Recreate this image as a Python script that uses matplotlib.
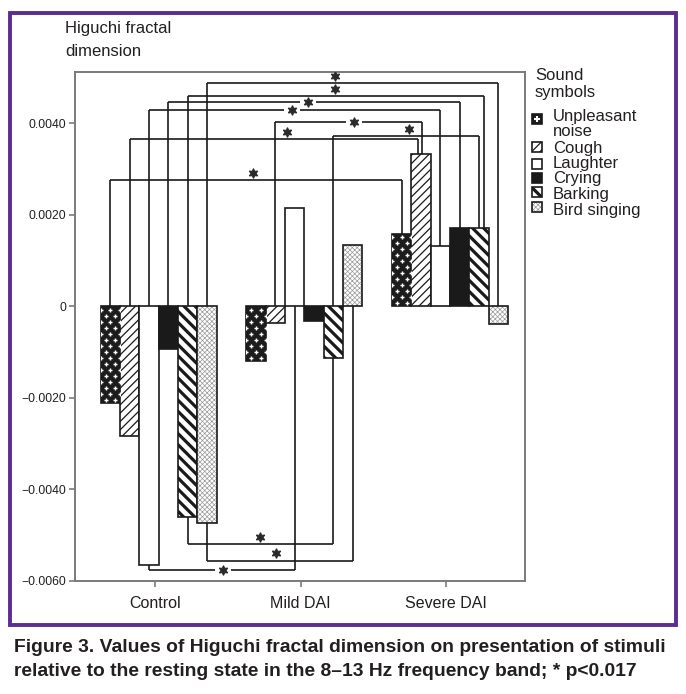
import numpy as np
import matplotlib
matplotlib.use("Agg")
import matplotlib.pyplot as plt
from matplotlib.patches import Rectangle

plt.rcParams['font.family'] = ['Liberation Sans', 'DejaVu Sans']

groups = ["Control", "Mild DAI", "Severe DAI"]
sounds = ["Unpleasant\nnoise", "Cough", "Laughter", "Crying", "Barking", "Bird singing"]

# change of Higuchi FD relative to rest, one list per group (sound order as above)
control = [-0.00212, -0.00283, -0.00565, -0.00094, -0.00461, -0.00474]
mild = [-0.00120, -0.00037, 0.00214, -0.00033, -0.00114, 0.00134]
severe = [0.00157, 0.00332, 0.00132, 0.00170, 0.00170, -0.00039]
values = [control, mild, severe]

yticks = [-0.006, -0.004, -0.002, 0.0, 0.002, 0.004]
ytick_labels = ["\u22120.0060", "\u22120.0040", "\u22120.0020", "0", "0.0020", "0.0040"]

# significant pairs (group a, group b, sound index, bracket level)
sig_top = [(0, 2, 5, 0.00487), (0, 2, 4, 0.00459), (0, 2, 3, 0.00446), (0, 2, 2, 0.00428),
           (1, 2, 1, 0.00403), (1, 2, 4, 0.00372), (0, 2, 1, 0.00365), (0, 2, 0, 0.00275)]
sig_bot = [(0, 1, 4, -0.00520), (0, 1, 5, -0.00556), (0, 1, 2, -0.00576)]

# where the asterisk sits on each bracket, and whether the line breaks around it
star_x_top = [1.235, 1.235, 1.050, 0.940, 1.366, 1.743, 0.906, 0.673]
star_gap_top = [False, False, True, True, True, False, False, False]
end_nudge_top = [0.0, 0.034, 0.0, 0.0, 0.007, 0.0, -0.02, 0.0]
star_x_bot = [0.721, 0.830, 0.467]
star_gap_bot = [False, False, True]

W, H = 686, 694
fig = plt.figure(figsize=(W / 100, H / 100), dpi=100)

def fx(px):
    return px / W

def fy(py):
    return 1 - py / H

ax = fig.add_axes([fx(75), fy(580.7), fx(525) - fx(75), fy(72) - fy(580.7)])
ax.set_xlim(-0.549, 2.54)
ax.set_ylim(-0.006, 0.00512)

w = 0.1325
off = 0.025
ink = '#1a1a1a'

# fill, hatch, hatch colour, hatch width
styles = [
    ('#1c1c1c', None, ink, 1.0),
    ('white', '////', ink, 0.9),
    ('white', None, ink, 1.0),
    ('#1a1a1a', None, ink, 1.0),
    ('white', '\\\\\\', ink, 2.3),
    ('white', 'xxxxxxx', '#9a9a9a', 0.5),
]

def bar_x(g, s):
    return g + off + (s - 2.5) * w

def patterned_rect(target, x, y, width, height, s, transform=None):
    face, hatch, hcol, hlw = styles[s]
    kw = {} if transform is None else {'transform': transform}
    with plt.rc_context({'hatch.linewidth': hlw}):
        base = Rectangle((x, y), width, height, facecolor=face, edgecolor=hcol,
                         linewidth=0, hatch=hatch, **kw)
        try:
            base.set_hatch_linewidth(hlw)
        except AttributeError:
            pass
    target.add_artist(base) if transform is not None else target.add_patch(base)
    edge = Rectangle((x, y), width, height, fill=False, edgecolor=ink, linewidth=1.2, **kw)
    target.add_artist(edge) if transform is not None else target.add_patch(edge)
    return base

px_per_y = 91.6 / 0.002
for g, vals in enumerate(values):
    for s, v in enumerate(vals):
        x0 = bar_x(g, s) - w / 2
        p = patterned_rect(ax, x0, 0, w, v, s)
        if s == 0:
            # white crosses on dark ground
            step = 6.0 / px_per_y
            lo, hi = min(0, v), max(0, v)
            xs, ys = [], []
            for k, yy in enumerate(np.arange(lo + step / 2, hi, step)):
                cols = [0.25, 0.75] if k % 2 == 0 else [0.0, 0.5, 1.0]
                for c in cols:
                    xs.append(x0 + c * w)
                    ys.append(yy)
            ln, = ax.plot(xs, ys, ls='none', marker='+', ms=3.4, mew=1.0, color='white', zorder=2.5)
            ln.set_clip_path(p)

star = (6, 1, 0)
gap = 0.055
star_dy = 7.5 / px_per_y

def bracket(ga, gb, s, level, sx, has_gap, nudge=0.0):
    xa, xb = bar_x(ga, s), bar_x(gb, s) + nudge
    va, vb = values[ga][s], values[gb][s]
    if level > 0:
        ya, yb = max(va, 0), max(vb, 0)
    else:
        ya, yb = min(va, 0), min(vb, 0)
    kw = dict(color=ink, lw=1.2, solid_capstyle='butt', zorder=3)
    ax.plot([xa, xa], [ya, level], **kw)
    ax.plot([xb, xb], [yb, level], **kw)
    if has_gap:
        ax.plot([xa, sx - gap], [level, level], **kw)
        ax.plot([sx + gap, xb], [level, level], **kw)
        sy = level
    else:
        ax.plot([xa, xb], [level, level], **kw)
        sy = level + star_dy
    ax.plot(sx, sy, marker=star, ms=7, color='#2a2a2a', mew=0.8, zorder=4)

for (ga, gb, s, lvl), sx, gp, nb in zip(sig_top, star_x_top, star_gap_top, end_nudge_top):
    bracket(ga, gb, s, lvl, sx, gp, nb)
for (ga, gb, s, lvl), sx, gp in zip(sig_bot, star_x_bot, star_gap_bot):
    bracket(ga, gb, s, lvl, sx, gp)

for sp in ax.spines.values():
    sp.set_color('#7a7a7a')
    sp.set_linewidth(1.4)
ax.set_xticks(range(len(groups)))
ax.set_xticklabels(groups, fontsize=11.5, color='#231f20')
ax.set_yticks(yticks)
ax.set_yticklabels(ytick_labels, fontsize=8.7, color='#231f20')
ax.tick_params(axis='x', length=4, width=1.2, color='#7a7a7a', pad=7)
ax.tick_params(axis='y', length=4, width=1.2, color='#7a7a7a', pad=2.5)

fig.text(fx(65), fy(28), "Higuchi fractal", fontsize=12, va='center', ha='left', color='#231f20')
fig.text(fx(65), fy(51), "dimension", fontsize=12, va='center', ha='left', color='#231f20')

# legend drawn by hand to keep the tight line spacing
fig.text(fx(535), fy(75), "Sound", fontsize=12, va='center', ha='left', color='#231f20')
fig.text(fx(535), fy(92), "symbols", fontsize=12, va='center', ha='left', color='#231f20')
label_y = [117, 148, 163.5, 179, 194.5, 210]
handle_y = [119, 147, 164, 178, 192.5, 207]
for s, (lab, ly, hy) in enumerate(zip(sounds, label_y, handle_y)):
    for k, line in enumerate(lab.split("\n")):
        fig.text(fx(553), fy(ly + 14 * k), line, fontsize=12, va='center', ha='left',
                 color='#231f20')
    hs = 10
    patterned_rect(fig, fx(532), fy(hy + hs / 2), hs / W, hs / H, s, transform=fig.transFigure)
    if s == 0:
        fig.add_artist(plt.Line2D([fx(537)], [fy(hy)], ls='none', marker='+', ms=4.5, mew=1.5,
                                  color='white', transform=fig.transFigure))

# purple frame round the chart
fig.add_artist(Rectangle((fx(10), fy(625)), fx(676) - fx(10), fy(13) - fy(625), fill=False,
                         edgecolor='#5c2d91', linewidth=2.8, transform=fig.transFigure))

cap1 = "Figure 3. Values of Higuchi fractal dimension on presentation of stimuli"
cap2 = "relative to the resting state in the 8\u201313 Hz frequency band; * p<0.017"
fig.text(fx(14), fy(648), cap1, fontsize=13.9, fontweight='bold', va='center', ha='left', color='#231f20')
fig.text(fx(14), fy(672), cap2, fontsize=13.9, fontweight='bold', va='center', ha='left', color='#231f20')

fig.savefig("out.png", dpi=100)
